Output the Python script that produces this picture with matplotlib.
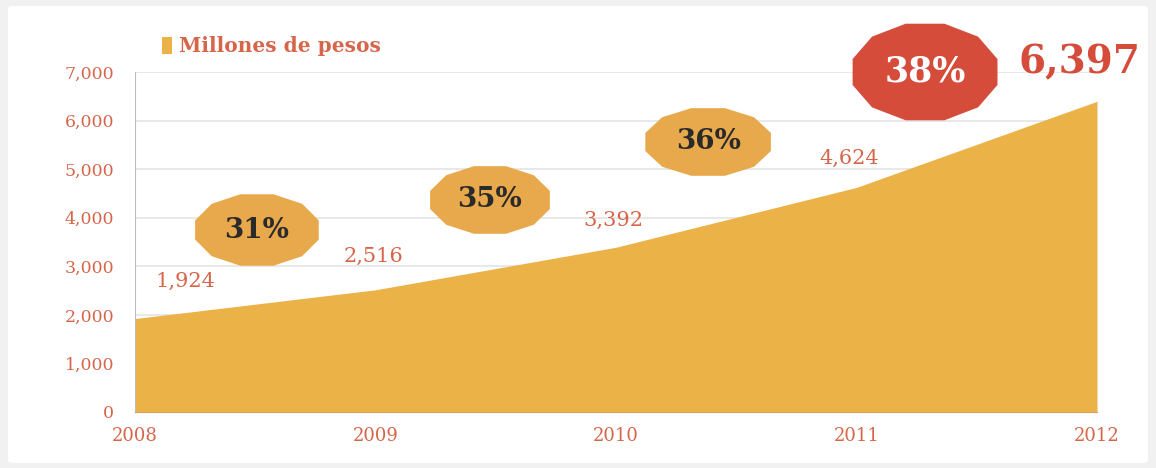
import numpy as np
import matplotlib.pyplot as plt
from matplotlib.patches import Polygon, FancyBboxPatch, Rectangle

years = [2008, 2009, 2010, 2011, 2012]
values = [1924, 2516, 3392, 4624, 6397]
value_labels = ["1,924", "2,516", "3,392", "4,624", "6,397"]
growth_labels = ["31%", "35%", "36%", "38%"]
yticks = [0, 1000, 2000, 3000, 4000, 5000, 6000, 7000]
ytick_labels = ["0", "1,000", "2,000", "3,000", "4,000", "5,000", "6,000", "7,000"]

AREA = "#EBB248"
BADGE = "#E7A94B"
RED = "#D64C3B"
TXT = "#D6664A"
FONT = "DejaVu Serif"

fig = plt.figure(figsize=(11.56, 4.68), dpi=100, facecolor="#f1f1f1")
fig.patches.append(FancyBboxPatch((8 / 1156, 5 / 468), 1140 / 1156, 457 / 468,
                                  boxstyle="round,pad=0,rounding_size=0.005",
                                  transform=fig.transFigure, facecolor="white",
                                  edgecolor="none", zorder=-10))

ax = fig.add_axes([135 / 1156, 1 - 412 / 468, (1097 - 135) / 1156, (412 - 72) / 468])
ax.set_facecolor("none")
ax.fill_between(years, values, 0, color=AREA, lw=0, zorder=2)
ax.set_xlim(2008, 2012)
ax.set_ylim(0, 7000)

ax.set_yticks(yticks)
ax.set_yticklabels(ytick_labels, fontsize=12.5, color=TXT, family=FONT)
ax.set_xticks(years)
ax.set_xticklabels([str(y) for y in years], fontsize=13, color=TXT, family=FONT)
ax.tick_params(axis="both", length=0)
ax.tick_params(axis="y", pad=15)
ax.tick_params(axis="x", pad=11)
ax.grid(axis="y", color="#e4e4e4", lw=1.2, zorder=0)
for s in ["top", "right"]:
    ax.spines[s].set_visible(False)
ax.spines["left"].set_color("#bdbdbd")
ax.spines["bottom"].set_color("#d9a060")

# value labels
label_pos = [(2008.21, 2680), (2008.99, 3200), (2009.99, 3950), (2010.97, 5230)]
for (x, y), lab in zip(label_pos, value_labels[:4]):
    ax.text(x, y, lab, ha="center", va="center", fontsize=15, color=TXT,
            family=FONT, zorder=5)
ax.text(2012.18, 7200, value_labels[4], ha="right", va="center", fontsize=28,
        fontweight="bold", color=RED, family=FONT, clip_on=False, zorder=5)


def badge(cx, cy, w, h, color, label, tcolor, fs):
    px, py = ax.transData.transform((cx, cy))
    n = 12
    ang = np.linspace(0, 2 * np.pi, n, endpoint=False) + np.pi / n
    verts = np.column_stack([px + w / 2 * np.cos(ang), py + h / 2 * np.sin(ang)])
    poly = Polygon(verts, closed=True, facecolor=color, edgecolor="none",
                   transform=None, zorder=6)
    fig.patches.append(poly)
    fig.text(px / fig.bbox.width, py / fig.bbox.height, label, ha="center",
             va="center", fontsize=fs, fontweight="bold", color=tcolor,
             family=FONT, zorder=7)


badge_pos = [(2008.507, 3747, 128, 74), (2009.476, 4365, 124, 70),
             (2010.383, 5559, 130, 70), (2011.285, 7000, 150, 100)]
badge_cols = [(BADGE, "#2a2a2a", 20), (BADGE, "#2a2a2a", 20),
              (BADGE, "#2a2a2a", 20), (RED, "white", 25)]
for (cx, cy, w, h), (c, tc, fs), lab in zip(badge_pos, badge_cols, growth_labels):
    badge(cx, cy, w, h, c, lab, tc, fs)

# legend
fig.patches.append(Rectangle((162 / 1156, 1 - 54 / 468), 10 / 1156, 17 / 468,
                             transform=fig.transFigure, facecolor=AREA,
                             edgecolor="none"))
fig.text(179 / 1156, 1 - 46 / 468, "Millones de pesos", ha="left", va="center",
         fontsize=14.5, color=TXT, family=FONT, fontweight="bold")

fig.savefig("out.png", dpi=100, facecolor=fig.get_facecolor())
